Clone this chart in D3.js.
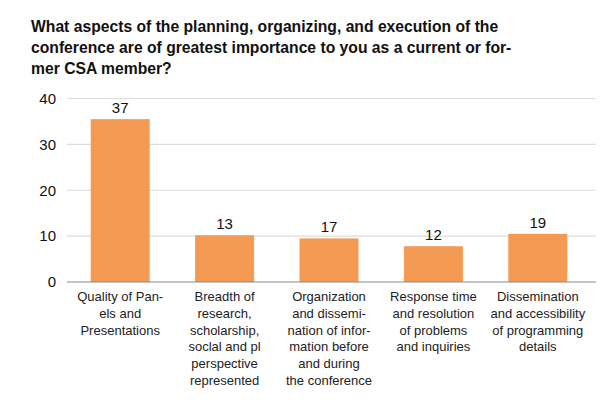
<!DOCTYPE html>
<html>
<head>
<meta charset="utf-8">
<script src="https://cdn.jsdelivr.net/npm/d3@7"></script>
<style>
  body { margin: 0; background: #fff; }
  text { font-family: "Liberation Sans", Arial, sans-serif; }
</style>
</head>
<body>
<script>
// chart values
var categories = [
  ["Quality of Pan-", "els and", "Presentations"],
  ["Breadth of", "research,", "scholarship,", "soclal and pl", "perspective", "represented"],
  ["Organization", "and dissemi-", "nation of infor-", "mation before", "and during", "the conference"],
  ["Response time", "and resolution", "of problems", "and inquiries"],
  ["Dissemination", "and accessibility", "of programming", "details"]
]
var barValues = [35.5, 10.2, 9.5, 7.8, 10.5]
var valueLabels = ["37", "13", "17", "12", "19"]
var yTicks = [0, 10, 20, 30, 40]
var titleLines = [
  "What aspects of the planning, organizing, and execution of the",
  "conference are of greatest importance to you as a current or for-",
  "mer CSA member?"
]

var W = 615, H = 410
var svg = d3.select("body").append("svg")
  .attr("width", W).attr("height", H)

var x = d3.scaleBand()
  .domain(d3.range(categories.length))
  .range([68, 590])
  .paddingInner(0.435)
  .paddingOuter(0.2175)

var y = d3.scaleLinear().domain([0, 40]).range([282, 98.5])

// title
svg.append("g").selectAll("text")
  .data(titleLines)
  .enter().append("text")
  .attr("x", 31)
  .attr("y", (d, i) => 32 + i * 21)
  .attr("font-size", "15.7px")
  .attr("font-weight", "bold")
  .attr("fill", "#111")
  .text(d => d)

// grid
svg.append("g").selectAll("line")
  .data(yTicks.filter(d => d > 0))
  .enter().append("line")
  .attr("x1", 67).attr("x2", 596)
  .attr("y1", d => y(d)).attr("y2", d => y(d))
  .attr("stroke", "#dcdcdc")
  .attr("stroke-width", 1.2)

// y axis labels
var yAxis = svg.append("g")
  .attr("transform", "translate(56,0)")
  .call(d3.axisLeft(y).tickValues(yTicks).tickSize(0).tickPadding(0))
yAxis.select(".domain").remove()
yAxis.selectAll("text")
  .attr("font-size", "15px")
  .attr("fill", "#111")
  .attr("font-family", "Liberation Sans, Arial, sans-serif")

// bars
svg.append("g").selectAll("rect")
  .data(barValues)
  .enter().append("rect")
  .attr("x", (d, i) => x(i))
  .attr("width", x.bandwidth())
  .attr("y", d => y(d))
  .attr("height", d => y(0) - y(d))
  .attr("fill", "#f49a52")

// value labels
svg.append("g").selectAll("text")
  .data(barValues)
  .enter().append("text")
  .attr("x", (d, i) => x(i) + x.bandwidth() / 2)
  .attr("y", d => y(d) - 6)
  .attr("text-anchor", "middle")
  .attr("font-size", "15px")
  .attr("fill", "#111")
  .text((d, i) => valueLabels[i])

// baseline
svg.append("line")
  .attr("x1", 67).attr("x2", 596)
  .attr("y1", y(0)).attr("y2", y(0))
  .attr("stroke", "#8a8a8a")
  .attr("stroke-width", 1.2)

// category labels
var cat = svg.append("g").selectAll("text")
  .data(categories)
  .enter().append("text")
  .attr("text-anchor", "middle")
  .attr("font-size", "13px")
  .attr("fill", "#222")
  .attr("transform", (d, i) => "translate(" + (x(i) + x.bandwidth() / 2) + ",301)")
cat.selectAll("tspan")
  .data(d => d)
  .enter().append("tspan")
  .attr("x", 0)
  .attr("y", (d, i) => i * 16.8)
  .text(d => d)
</script>
</body>
</html>
